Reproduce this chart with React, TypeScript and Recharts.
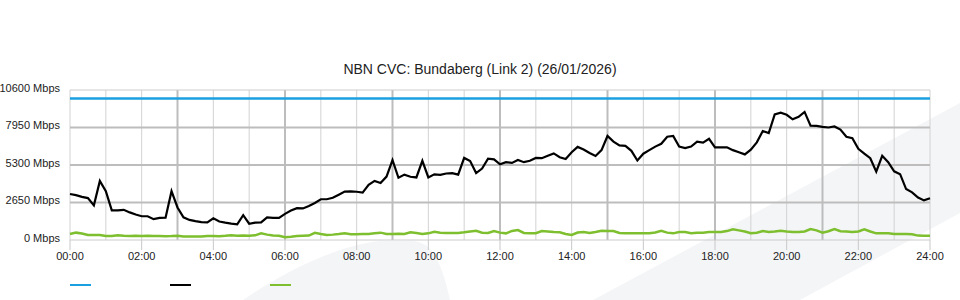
import { LineChart, Line, XAxis, YAxis, ReferenceLine } from "recharts";

const title = "NBN CVC: Bundaberg (Link 2) (26/01/2026)";

// 10-minute samples, 00:00 .. 24:00
const usedMbps = [
  3250, 3170, 3050, 2960, 2450, 4170,
  3450, 2100, 2100, 2130, 1950, 1800,
  1680, 1680, 1470, 1560, 1580, 3450,
  2300, 1600, 1420, 1330, 1265, 1250,
  1530, 1310, 1230, 1160, 1110, 1750,
  1150, 1230, 1240, 1600, 1570, 1560,
  1850, 2080, 2250, 2230, 2400, 2620,
  2880, 2880, 2980, 3200, 3420, 3430,
  3410, 3350, 3900, 4180, 4030, 4480,
  5650, 4400, 4620, 4470, 4420, 5600,
  4420, 4640, 4600, 4700, 4720, 4620,
  5800, 5580, 4730, 5050, 5750, 5700,
  5350, 5500, 5450, 5650, 5500, 5600,
  5800, 5780, 5950, 6120, 5850, 5720,
  6200, 6580, 6400, 6150, 5940, 6350,
  7350, 6950, 6680, 6650, 6300, 5620,
  6100, 6350, 6600, 6800, 7300, 7350,
  6600, 6500, 6600, 6950, 6880, 7150,
  6550, 6550, 6550, 6350, 6200, 6050,
  6380, 6900, 7700, 7550, 8880, 9000,
  8850, 8530, 8700, 9050, 8080, 8060,
  8000, 7950, 8020, 7800, 7300, 7200,
  6450, 6100, 5780, 4830, 5950, 5500,
  4850, 4650, 3600, 3370, 3000, 2800,
  2950,
];

const otherMbps = [
  420, 520, 460, 360, 360, 350,
  290, 290, 340, 300, 280, 300,
  290, 300, 280, 290, 270, 280,
  300, 240, 240, 250, 240, 280,
  290, 270, 300, 340, 300, 310,
  300, 330, 470, 380, 320, 300,
  200, 230, 280, 300, 310, 510,
  420, 350, 380, 420, 470, 400,
  410, 420, 420, 470, 520, 430,
  420, 450, 420, 540, 500, 430,
  470, 580, 520, 490, 490, 500,
  540, 600, 650, 520, 500, 630,
  520, 470, 640, 700, 500, 470,
  480, 630, 600, 560, 540, 420,
  360, 530, 560, 490, 560, 650,
  640, 640, 500, 470, 470, 470,
  470, 470, 530, 650, 520, 470,
  560, 560, 480, 520, 520, 560,
  560, 560, 630, 750, 680, 600,
  480, 520, 640, 560, 600, 650,
  600, 560, 560, 600, 770, 680,
  520, 620, 770, 620, 600, 560,
  600, 750, 600, 470, 470, 470,
  430, 420, 420, 400, 310, 300,
  300,
];

const capacityMbps = 10000;
const yTicks = [0, 2650, 5300, 7950, 10600];
const xTickLabels = ["00:00", "02:00", "04:00", "06:00", "08:00", "10:00", "12:00", "14:00", "16:00", "18:00", "20:00", "22:00", "24:00"];

const toMin = (s: string) => Number(s.slice(0, 2)) * 60;
const xTicks = xTickLabels.map(toMin);
const hourLines = Array.from({ length: 25 }, (_, h) => h * 60);

const data = usedMbps.map((v, i) => ({ t: i * 10, used: v, other: otherMbps[i] }));

const font = "'Liberation Sans', Arial, sans-serif";
const BLUE = "#1aa0e0";
const BLACK = "#000000";
const GREEN = "#7dbf2e";

const legendItems = [
  { color: BLUE, left: 70 },
  { color: BLACK, left: 170 },
  { color: GREEN, left: 270 },
];

function YTick({ y, payload }: any) {
  return (
    <text x={60} y={y - 2} dy="0.355em" textAnchor="end" fontSize={11} fill="#222" fontFamily={font}>
      {`${payload.value} Mbps`}
    </text>
  );
}

export default function App() {
  return (
    <div style={{ position: "absolute", left: 0, top: 0, width: 960, height: 300, fontFamily: font, background: "#fff" }}>
      <svg width={960} height={300} style={{ position: "absolute", left: 0, top: 0 }}>
        <polygon points="593,300 960,103 960,213 800,300" fill="#f4f5f7" />
        <path d="M243,300 C290,268 340,245 380,241 L413,241 C430,243 440,255 450,300 Z" fill="#f4f5f7" />
      </svg>
      <div
        style={{ position: "absolute", left: 0, top: 61, width: 960, textAlign: "center", fontSize: 14, color: "#222" }}
      >
        {title}
      </div>
      <div style={{ position: "absolute", left: 0, top: 0 }}>
        <LineChart width={960} height={300} data={data} margin={{ top: 90, right: 30, bottom: 0, left: 0 }}>
          {hourLines.map((m) => (
            <ReferenceLine
              key={"v" + m}
              x={m}
              stroke={m % 180 === 0 && m > 0 && m < 1440 ? "#bdbdbd" : "#d2d2d2"}
              strokeWidth={m % 180 === 0 && m > 0 && m < 1440 ? 2 : 1}
            />
          ))}
          {yTicks.map((v) => (
            <ReferenceLine
              key={"h" + v}
              y={v}
              stroke={v === 0 || v === 10600 ? "#cccccc" : "#bdbdbd"}
              strokeWidth={v === 0 || v === 10600 ? 1 : 2}
            />
          ))}
          <XAxis
            type="number"
            dataKey="t"
            domain={[0, 1440]}
            ticks={xTicks}
            tickFormatter={(v: number) => xTickLabels[xTicks.indexOf(v)]}
            axisLine={false}
            tickLine={{ stroke: "#c8c8c8" }}
            tickSize={10}
            tickMargin={2}
            height={60}
            tick={{ fontSize: 11, fill: "#222", fontFamily: font }}
          />
          <YAxis
            domain={[0, 10600]}
            ticks={yTicks}
            axisLine={false}
            tickLine={false}
            width={70}
            tick={<YTick />}
          />
          <ReferenceLine y={capacityMbps} stroke={BLUE} strokeWidth={2.5} />
          <Line dataKey="other" stroke={GREEN} strokeWidth={2.5} dot={false} isAnimationActive={false} />
          <Line dataKey="used" stroke={BLACK} strokeWidth={2.2} dot={false} isAnimationActive={false} />
        </LineChart>
      </div>
      {legendItems.map((it) => (
        <div
          key={it.left}
          style={{ position: "absolute", left: it.left, top: 284, width: 21, height: 2, background: it.color }}
        />
      ))}
    </div>
  );
}
